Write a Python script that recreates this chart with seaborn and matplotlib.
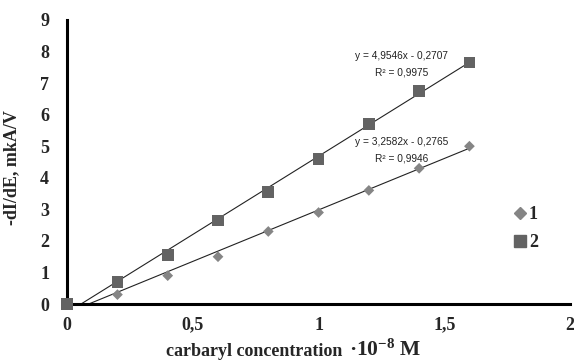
import numpy as np
import pandas as pd
import matplotlib
matplotlib.use('Agg')
import matplotlib.pyplot as plt
import seaborn as sns
from matplotlib.lines import Line2D

# data
conc = [0, 0.2, 0.4, 0.6, 0.8, 1.0, 1.2, 1.4, 1.6]
signal_1 = [0, 0.3, 0.9, 1.5, 2.3, 2.9, 3.6, 4.3, 5.0]
signal_2 = [0, 0.7, 1.55, 2.65, 3.55, 4.6, 5.7, 6.75, 7.65]
series_names = ['1', '2']
slopes = [3.2582, 4.9546]
intercepts = [-0.2765, -0.2707]
r2_values = ['0,9946', '0,9975']
x_ticks = [0, 0.5, 1, 1.5, 2]
x_tick_labels = ['0', '0,5', '1', '1,5', '2']
y_ticks = list(range(0, 10))

sns.set_style('white')
plt.rcParams['font.family'] = ['Liberation Serif', 'DejaVu Serif']
plt.rcParams['mathtext.default'] = 'regular'

df = pd.DataFrame({
    'conc': conc * 2,
    'signal': signal_1 + signal_2,
    'series': [series_names[0]] * len(conc) + [series_names[1]] * len(conc),
})

fig = plt.figure(figsize=(5.74, 3.62), dpi=100)
ax = fig.add_axes([0.117, 0.16, 0.876, 0.785])

colors = {'1': '#858585', '2': '#636363'}
markers = {'1': 'D', '2': 's'}
sizes = {'1': 30, '2': 70}

# trend lines (from the x-intercept to the last point)
for k, name in enumerate(series_names):
    x0 = -intercepts[k] / slopes[k]
    xs = np.array([x0, conc[-1]])
    sns.lineplot(x=xs, y=slopes[k] * xs + intercepts[k], ax=ax,
                 color='#222222', linewidth=0.8)

for name in series_names:
    sub = df[df['series'] == name]
    sns.scatterplot(data=sub, x='conc', y='signal', ax=ax, marker=markers[name],
                    color=colors[name], s=sizes[name], edgecolor='none',
                    zorder=3, clip_on=False)

# equations
eq_pos = [(1.33, 5.13), (1.33, 7.86)]
for k in range(2):
    sgn = '-' if intercepts[k] < 0 else '+'
    eq = 'y = {}x {} {}'.format(f'{slopes[k]:.4f}'.replace('.', ','), sgn,
                                f'{abs(intercepts[k]):.4f}'.replace('.', ','))
    ax.text(eq_pos[k][0], eq_pos[k][1], eq, ha='center', va='center',
            fontsize=7.3, family=['Liberation Sans', 'DejaVu Sans'], color='#222222')
    ax.text(eq_pos[k][0], eq_pos[k][1] - 0.51, 'R² = ' + r2_values[k],
            ha='center', va='center', fontsize=7.3,
            family=['Liberation Sans', 'DejaVu Sans'], color='#222222')

ax.set_xlim(0, 2)
ax.set_ylim(0, 9)
ax.set_xticks(x_ticks)
ax.set_xticklabels(x_tick_labels)
ax.set_yticks(y_ticks)
ax.tick_params(length=0, labelsize=13)
ax.tick_params(axis='y', pad=13)
ax.tick_params(axis='x', pad=9)
for lbl in ax.get_xticklabels() + ax.get_yticklabels():
    lbl.set_fontweight('bold')

sns.despine(ax=ax)
for side in ['left', 'bottom']:
    ax.spines[side].set_linewidth(2.2)
    ax.spines[side].set_color('black')

ax.set_ylabel('-dI/dE, mkA/V', fontsize=13, fontweight='bold')
ax.yaxis.set_label_coords(-0.093, 0.48)
ax.set_xlabel('')
fig.text(166 / 574, 0.016, 'carbaryl concentration', fontsize=13, fontweight='bold',
         ha='left', va='baseline')
fig.text(349 / 574, 0.016, '·10$^{-8}$ M', fontsize=15.5, fontweight='bold',
         ha='left', va='baseline')

handles = [Line2D([], [], marker=markers[n], color=colors[n], linestyle='none',
                  markersize=6.5 if n == '1' else 8.5) for n in series_names]
leg = ax.legend(handles, series_names, loc='center left', bbox_to_anchor=(0.85, 0.265),
                frameon=False, handletextpad=0.0, labelspacing=0.6,
                prop={'weight': 'bold', 'size': 13}, handlelength=1.0)

fig.savefig('out.png', dpi=100)
